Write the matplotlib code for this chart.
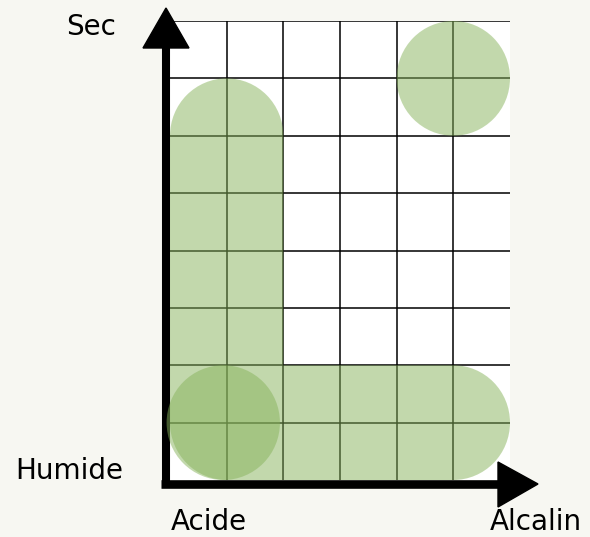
import numpy as np
import matplotlib.pyplot as plt
from matplotlib.path import Path
from matplotlib.patches import PathPatch, Circle, Polygon

# grid of 6 x 8 cells
n_cols = 6
n_rows = 8

# shapes (in cell units)
# vertical band: round top, rounded bottom-left corner, square bottom-right
vband_x = [0, 2]
vband_y = [0, 7]
# horizontal band: flat left end, round right end, plus a circle at its left
hband_x = [2, 6]
hband_y = [0, 2]
left_circle_center = (0.94, 1)
# lone circle
circle_center = (5, 7)
circle_radius = 1

corner_labels = ["Sec", "Humide", "Acide", "Alcalin"]

fill = "#87b35b"
bg = "#f7f7f2"

plt.rcParams['font.family'] = ['DejaVu Sans']

W, H = 590, 537
fig = plt.figure(figsize=(W / 100, H / 100), dpi=100, facecolor=bg)
ax = fig.add_axes([170 / W, (H - 480) / H, 340 / W, 459 / H])
ax.set_facecolor("white")
ax.set_xlim(0, n_cols)
ax.set_ylim(0, n_rows)
for s in ax.spines.values():
    s.set_visible(False)
ax.set_xticks([])
ax.set_yticks([])

# grid lines
ax.vlines(np.arange(1, n_cols), 0, n_rows, color="black", lw=1.1, zorder=1)
ax.hlines(np.arange(1, n_rows + 1), 0, n_cols, color="black", lw=1.1, zorder=1)


def add_arc(verts, codes, t1, t2, r, cx, cy):
    arc = Path.arc(t1, t2)
    av = arc.vertices * r + [cx, cy]
    verts += list(map(tuple, av[1:]))
    codes += list(arc.codes[1:])


def vertical_band(x0, x1, y0, y1):
    r = (x1 - x0) / 2
    verts = [(x1, y0), (x1, y1 - r)]
    codes = [Path.MOVETO, Path.LINETO]
    add_arc(verts, codes, 0, 180, r, x0 + r, y1 - r)
    verts += [(x0, y0 + r)]
    codes += [Path.LINETO]
    add_arc(verts, codes, 180, 270, r, x0 + r, y0 + r)
    verts += [(x1, y0)]
    codes += [Path.CLOSEPOLY]
    return Path(verts, codes)


def rounded_right_band(x0, x1, y0, y1):
    r = (y1 - y0) / 2
    verts = [(x0, y0), (x1 - r, y0)]
    codes = [Path.MOVETO, Path.LINETO]
    add_arc(verts, codes, -90, 90, r, x1 - r, y0 + r)
    verts += [(x0, y1), (x0, y0)]
    codes += [Path.LINETO, Path.CLOSEPOLY]
    return Path(verts, codes)


# axis arrows (drawn under the shapes)
px = lambda v: (v - 170) / (340 / n_cols)
py = lambda v: (480 - v) / (459 / n_rows)
ax.plot([px(166), px(166)], [py(488), py(46)], color="black", lw=5.8,
        solid_capstyle="butt", clip_on=False, zorder=2)
ax.add_patch(Polygon([(px(143), py(48)), (px(189), py(48)), (px(166), py(8))],
                     closed=True, color="black", clip_on=False, zorder=2))
ax.plot([px(161), px(500)], [py(483.5), py(483.5)], color="black", lw=6.2,
        solid_capstyle="butt", clip_on=False, zorder=2)
ax.add_patch(Polygon([(px(498), py(462)), (px(498), py(507)), (px(538), py(484))],
                     closed=True, color="black", clip_on=False, zorder=2))

# green areas
style = dict(facecolor=fill, edgecolor="none", alpha=0.5, zorder=3, clip_on=False)
ax.add_patch(PathPatch(vertical_band(vband_x[0], vband_x[1], vband_y[0], vband_y[1]), **style))
ax.add_patch(PathPatch(rounded_right_band(hband_x[0], hband_x[1], hband_y[0], hband_y[1]), **style))
ax.add_patch(Circle(left_circle_center, (hband_y[1] - hband_y[0]) / 2, **style))
ax.add_patch(Circle(circle_center, circle_radius, **style))

# corner labels
fs = 20
fig.text(91 / W, 1 - 27 / H, corner_labels[0], fontsize=fs, ha="center", va="center")
fig.text(15 / W, 1 - 471 / H, corner_labels[1], fontsize=fs, ha="left", va="center")
fig.text(171 / W, 1 - 522 / H, corner_labels[2], fontsize=fs, ha="left", va="center")
fig.text(490 / W, 1 - 522 / H, corner_labels[3], fontsize=fs, ha="left", va="center")

fig.savefig("out.png", dpi=100, facecolor=bg)
